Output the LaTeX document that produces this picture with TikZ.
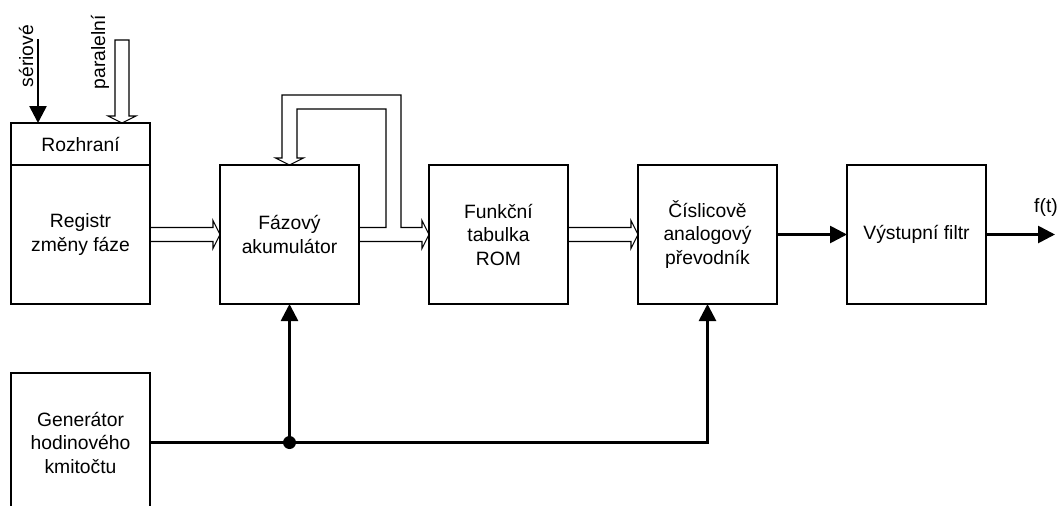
\documentclass[tikz,border=0pt]{standalone}
\usepackage{fontspec}
\setmainfont{Liberation Sans}
\usetikzlibrary{positioning,calc,arrows.meta}

\tikzset{
  blok/.style={draw, line width=2.7pt, minimum width=139pt, minimum height=139pt,
    inner sep=0pt, outer sep=0pt, align=center},
  sbernice/.style={line width=1.1pt, line join=miter},
  signal/.style={line width=2.7pt, -{Triangle[length=17pt,width=17pt]}},
}

\begin{document}
\begin{tikzpicture}[x=1pt, y=-1pt, font=\fontsize{19.3}{23.5}\selectfont]
\useasboundingbox (0,0) rectangle (1058,506);
\clip (0,0) rectangle (1058,506);

% Blocks of the synthesizer
\node[blok] (reg) at (80.5,234.5) {Registr\\změny fáze};
\node[blok, minimum height=42pt, above=0pt of reg] (roz) {Rozhraní};
\node[blok, right=70pt of reg] (acc) {Fázový\\akumulátor};
\node[blok, right=70pt of acc] (tab) {Funkční\\tabulka\\ROM};
\node[blok, right=70pt of tab] (dac) {Číslicově\\analogový\\převodník};
\node[blok, right=70pt of dac] (filt) {Výstupní filtr};
\node[blok, below=69pt of reg] (gen) {Generátor\\hodinového\\kmitočtu};

% Inputs of the interface
\coordinate (sin) at ($(roz.north west)+(27,0)$);
\coordinate (pin) at ($(roz.north west)+(111,0)$);
\draw[signal] ($(sin)+(0,-84)$) -- (sin);
\node[rotate=90] (ser) at ($(sin)+(-12,-67)$) {sériové};
\draw[sbernice] ($(pin)+(-7,-7)$) -- ($(pin)+(-7,-83)$) -- ($(pin)+(7,-83)$)
  -- ($(pin)+(7,-7)$) -- ($(pin)+(14,-7)$) -- (pin) -- ($(pin)+(-14,-7)$) -- cycle;
\node[rotate=90] (par) at ($(pin)+(-22,-71)$) {paralelní};

% Bus: register -> accumulator
\draw[sbernice] ($(reg.east)+(0,-7)$) -- ($(acc.west)+(-7,-7)$) -- ($(acc.west)+(-7,-14)$)
  -- (acc.west) -- ($(acc.west)+(-7,14)$) -- ($(acc.west)+(-7,7)$) -- ($(reg.east)+(0,7)$);

% Bus: accumulator -> ROM, with the feedback loop
\draw[sbernice] ($(acc.east)+(0,7)$) -- ($(tab.west)+(-7,7)$) -- ($(tab.west)+(-7,14)$)
  -- (tab.west) -- ($(tab.west)+(-7,-14)$) -- ($(tab.west)+(-7,-7)$)
  -- ($(acc.east)+(42,-7)$) |- ($(acc.north)+(-7.5,-70)$)
  -- ($(acc.north)+(-7.5,-7)$) -- ($(acc.north)+(-14,-7)$) -- (acc.north)
  -- ($(acc.north)+(14,-7)$) -- ($(acc.north)+(7.5,-7)$)
  -- ($(acc.north)+(7.5,-56)$) -| ($(acc.east)+(27,-7)$) -- ($(acc.east)+(0,-7)$);

% Bus: ROM -> DAC
\draw[sbernice] ($(tab.east)+(0,-7)$) -- ($(dac.west)+(-7,-7)$) -- ($(dac.west)+(-7,-14)$)
  -- (dac.west) -- ($(dac.west)+(-7,14)$) -- ($(dac.west)+(-7,7)$) -- ($(tab.east)+(0,7)$);

% Analog path
\coordinate (vystup) at ($(filt.east)+(69,0)$);
\draw[signal] (dac.east) -- (filt.west);
\draw[signal] (filt.east) -- (vystup);
\node (ft) at ($(vystup)+(-9,-27)$) {f(t)};

% Clock
\coordinate (uzel) at (acc.south |- gen.east);
\draw[signal] (gen.east) -| (dac.south);
\draw[signal] (uzel) -- (acc.south);
\fill (uzel) circle (6.5pt);

\end{tikzpicture}
\end{document}
